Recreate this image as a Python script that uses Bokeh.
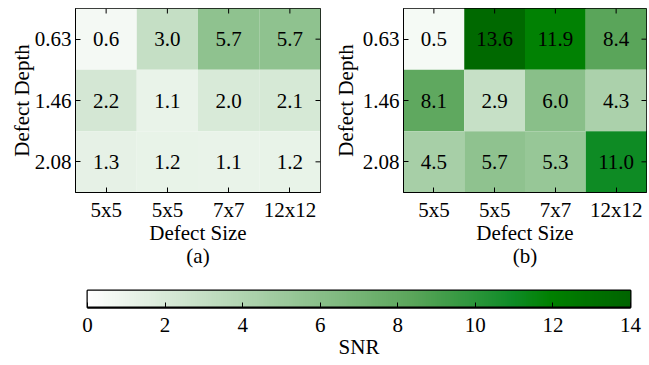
import numpy as np
from bokeh.plotting import figure
from bokeh.layouts import column, row
from bokeh.models import (ColumnDataSource, LinearColorMapper, FixedTicker,
                          Range1d, Title)
from bokeh.embed import file_html
from bokeh.resources import INLINE
from bokeh.core.properties import value

# ---- data ----
sizes = ["5x5", "5x5", "7x7", "12x12"]
depths = ["0.63", "1.46", "2.08"]
snr_a = [[0.6, 3.0, 5.7, 5.7],
         [2.2, 1.1, 2.0, 2.1],
         [1.3, 1.2, 1.1, 1.2]]
snr_b = [[0.5, 13.6, 11.9, 8.4],
         [8.1, 2.9, 6.0, 4.3],
         [4.5, 5.7, 5.3, 11.0]]
snr_ticks = [0, 2, 4, 6, 8, 10, 12, 14]

FONT = "Liberation Serif"
FS = "21px"
TICK_PX = 5

# white -> green -> dark green colour scale
anchors = [(0.0, (255, 255, 255)), (0.6, (90, 165, 90)), (0.78, (16, 140, 40)),
           (0.857, (0, 128, 0)), (1.0, (0, 100, 0))]
pos = np.array([a[0] for a in anchors])
rgb = np.array([a[1] for a in anchors], dtype=float)
t = np.linspace(0, 1, 256)
palette = ["#%02x%02x%02x" % tuple(int(round(np.interp(v, pos, rgb[:, k]))) for k in range(3))
           for v in t]
mapper = LinearColorMapper(palette=palette, low=0, high=14)


def style_axis(ax):
    ax.major_tick_in = TICK_PX
    ax.major_tick_out = 0
    ax.minor_tick_in = 0
    ax.minor_tick_out = 0
    ax.axis_line_color = "black"
    ax.major_tick_line_color = "black"
    ax.major_label_text_font = FONT
    ax.major_label_text_font_size = FS
    ax.major_label_text_color = "black"
    ax.axis_label_text_font = FONT
    ax.axis_label_text_font_size = FS
    ax.axis_label_text_font_style = "normal"
    ax.axis_label_text_color = "black"


def heatmap(values, tag, border_left, border_right, fw, ylabel_standoff):
    fh = 184
    nx, ny = len(sizes), len(depths)
    xs, ys, vals, txt = [], [], [], []
    for r, rowvals in enumerate(values):
        for c, v in enumerate(rowvals):
            xs.append(c + 0.5)
            ys.append(ny - r - 0.5)
            vals.append(v)
            txt.append(f"{v:.1f}")
    src = ColumnDataSource(dict(x=xs, y=ys, v=vals, t=txt))

    p = figure(output_backend="svg", toolbar_location=None,
               x_range=Range1d(0, nx), y_range=Range1d(0, ny),
               frame_width=fw, frame_height=fh,
               min_border_left=border_left, min_border_right=border_right,
               min_border_top=8, min_border_bottom=76)
    p.rect(x="x", y="y", width=1, height=1, source=src,
           fill_color={"field": "v", "transform": mapper}, line_color=None)
    p.text(x="x", y="y", text="t", source=src, text_align="center",
           text_baseline="middle", text_font=value(FONT), text_font_size=FS,
           text_color="black")

    xt = [i + 0.5 for i in range(nx)]
    yt = [ny - i - 0.5 for i in range(ny)]

    # mirrored inward ticks on the top and right edges
    dy = TICK_PX / fh * ny
    dx = TICK_PX / fw * nx
    p.segment(x0=xt, x1=xt, y0=[ny] * nx, y1=[ny - dy] * nx, line_color="black")
    p.segment(x0=[nx] * ny, x1=[nx - dx] * ny, y0=yt, y1=yt, line_color="black")

    p.xaxis.ticker = FixedTicker(ticks=xt)
    p.xaxis.major_label_overrides = {x: s for x, s in zip(xt, sizes)}
    p.yaxis.ticker = FixedTicker(ticks=yt)
    p.yaxis.major_label_overrides = {y: d for y, d in zip(yt, depths)}
    p.xaxis.axis_label = "Defect Size"
    p.yaxis.axis_label = "Defect Depth"
    style_axis(p.xaxis[0])
    style_axis(p.yaxis[0])
    p.xaxis.major_label_standoff = 5
    p.xaxis.axis_label_standoff = -4
    p.yaxis.major_label_standoff = 4
    p.yaxis.axis_label_standoff = ylabel_standoff

    p.add_layout(Title(text=tag, align="center", text_font=FONT, text_font_size=FS,
                       text_font_style="normal", text_color="black", standoff=-11), "below")

    p.grid.visible = False
    p.outline_line_color = "black"
    p.outline_line_width = 1
    p.border_fill_color = "white"
    return p


p1 = heatmap(snr_a, "(a)", 75, 10, 245, -2)
p2 = heatmap(snr_b, "(b)", 69, 7, 243, 2)

# ---- colour bar ----
pc = figure(output_backend="svg", toolbar_location=None,
            x_range=Range1d(0, 14), y_range=Range1d(0, 1),
            frame_width=543, frame_height=17,
            min_border_left=87, min_border_right=19, min_border_top=22,
            min_border_bottom=0)
grad = np.linspace(0, 14, 512).reshape(1, -1)
pc.image(image=[grad], x=0, y=0, dw=14, dh=1, color_mapper=mapper)
pc.yaxis.visible = False
pc.xaxis.ticker = FixedTicker(ticks=snr_ticks)
pc.xaxis.axis_label = "SNR"
style_axis(pc.xaxis[0])
pc.xaxis.major_label_standoff = 10
pc.xaxis.axis_label_standoff = 0
pc.grid.visible = False
pc.outline_line_color = "black"
pc.outline_line_width = 2
pc.xaxis.axis_line_width = 2

layout = column(row(p1, p2), pc)
open("out.html", "w").write(file_html(layout, INLINE))
